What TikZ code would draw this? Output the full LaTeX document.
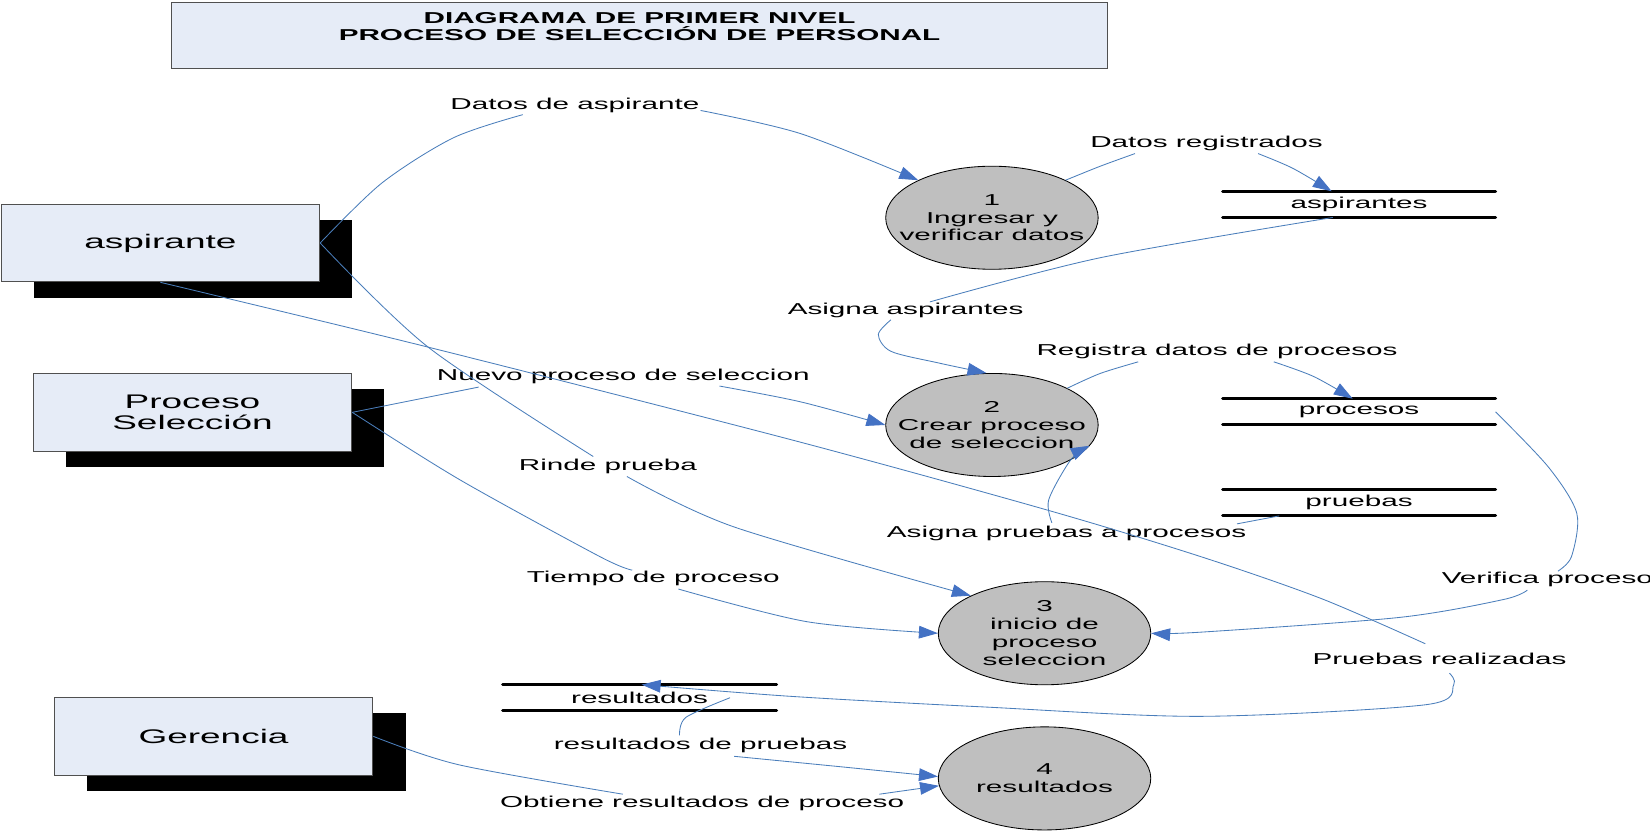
\documentclass[tikz,border=0pt]{standalone}
\usepackage{fontspec}
\setmainfont{Liberation Sans}[FakeStretch=1.88]
\usetikzlibrary{arrows.meta,shapes.geometric,shadows}
\definecolor{flowblue}{RGB}{74,126,187}
\definecolor{arrowblue}{RGB}{68,114,196}
\definecolor{entfill}{RGB}{230,236,247}
\definecolor{entborder}{RGB}{80,80,80}
\definecolor{procfill}{RGB}{191,191,191}
\newcommand\lblfont{\fontsize{15}{17}\selectfont}
\newcommand\entfont{\fontsize{18.7}{20}\selectfont}
\newcommand\ttlfont{\bfseries\fontsize{15}{16}\selectfont}
\tikzset{
  entity/.style={rectangle, draw=entborder, line width=0.8pt, fill=entfill,
    minimum width=303pt, minimum height=74pt, inner sep=0pt, align=center, font=\entfont,
    drop shadow={shadow xshift=31pt, shadow yshift=-15pt, fill=black, opacity=1}},
  titlebox/.style={rectangle, draw=entborder, line width=0.8pt, fill=entfill,
    minimum width=890pt, minimum height=63pt, inner sep=0pt},
  titletext/.style={align=center, font=\ttlfont, inner sep=0pt},
  proc/.style={ellipse, draw=black, line width=0.8pt, fill=procfill,
    minimum width=202pt, minimum height=98pt, inner sep=0pt},
  proctext/.style={align=center, font=\lblfont, inner sep=0pt},
  storenode/.style={rectangle, minimum width=259pt, minimum height=24.5pt, inner sep=0pt, font=\lblfont},
  storeline/.style={line width=3pt, line cap=round, black},
  flowlabel/.style={font=\lblfont, inner sep=0pt},
  flow/.style={draw=flowblue, line width=0.8pt},
  flowarr/.style={flow, -{Triangle[length=18pt,width=12pt,color=arrowblue]}}
}
\begin{document}
\begin{tikzpicture}[x=1pt,y=-1pt]
\fill[white] (0,0) rectangle (1568.6,790);
\useasboundingbox (0,0) rectangle (1568.6,790);

% title
\node[titlebox] (title) at (608,34) {};
\node[titletext] (titletxt) at (608,25.5) {DIAGRAMA DE PRIMER NIVEL\\PROCESO DE SELECCIÓN DE PERSONAL};

% entities
\node[entity] (asp) at (152.5,231) {aspirante};
\node[entity] (ps) at (183,392) {Proceso\\Selección};
\node[entity] (ger) at (203,700) {Gerencia};

% processes
\node[proc] (e1) at (943,207) {};
\node[proctext] (e1t) at (e1) {1\\Ingresar y\\verificar datos};
\node[proc] (e2) at (943,404) {};
\node[proctext] (e2t) at (e2) {2\\Crear proceso\\de seleccion};
\node[proc] (e3) at (993,602) {};
\node[proctext] (e3t) at (e3) {3\\inicio de\\proceso\\seleccion};
\node[proc] (e4) at (993,740) {};
\node[proctext] (e4t) at (e4) {4\\resultados};

% stores
\node[storenode] (sa) at (1292,194.3) {aspirantes};
\node[storenode] (sp) at (1292,391.5) {procesos};
\node[storenode] (spr) at (1292,478) {pruebas};
\node[storenode, minimum width=260pt] (sr) at (608,663.3) {resultados};
\foreach \s in {sa,sp,spr,sr}{
  \draw[storeline] (\s.north west) -- (\s.north east);
  \draw[storeline] (\s.south west) -- (\s.south east);
}

% flow labels
\node[flowlabel] (lDA) at (546.5,100) {Datos de aspirante};
\node[flowlabel] (lDR) at (1147,136) {Datos registrados};
\node[flowlabel] (lAA) at (861,295) {Asigna aspirantes};
\node[flowlabel] (lRD) at (1157,334) {Registra datos de procesos};
\node[flowlabel] (lNP) at (592.5,358) {Nuevo proceso de seleccion};
\node[flowlabel] (lRP) at (578,443) {Rinde prueba};
\node[flowlabel] (lAP) at (1014,507) {Asigna pruebas a procesos};
\node[flowlabel] (lTP) at (621,550) {Tiempo de proceso};
\node[flowlabel] (lVP) at (1471,551) {Verifica proceso};
\node[flowlabel] (lPR) at (1368.5,626) {Pruebas realizadas};
\node[flowlabel] (lRS) at (666,709) {resultados de pruebas};
\node[flowlabel] (lOB) at (667.5,764) {Obtiene resultados de proceso};

% label-side connector ends
\coordinate (da1) at (497,109); \coordinate (da2) at (666,105);
\coordinate (dr1) at (1079,146); \coordinate (dr2) at (1196,146);
\coordinate (aa1) at (884,287); \coordinate (aa2) at (847,304);
\coordinate (rd1) at (1082,344); \coordinate (rd2) at (1211,344);
\coordinate (np1) at (455,368); \coordinate (np2) at (684,367);
\coordinate (rp1) at (564,434); \coordinate (rp2) at (596,453);
\coordinate (ap1) at (1176,498); \coordinate (ap2) at (1000,497);
\coordinate (tp1) at (601,542); \coordinate (tp2) at (645,560);
\coordinate (vp1) at (1481,543); \coordinate (vp2) at (1452,561);
\coordinate (pr1) at (1355,612); \coordinate (pr2) at (1378,640);
\coordinate (rs1) at (646,699); \coordinate (rs2) at (698,719);
\coordinate (ob1) at (592,755); \coordinate (ob2) at (836,755);

% Datos de aspirante
\draw[flow] plot[smooth] coordinates {(asp.east) (363,174) (431,131) (da1)};
\draw[flowarr] plot[smooth] coordinates {(da2) (761,127) (e1.153)};
% Datos registrados
\draw[flow] plot[smooth] coordinates {(e1.27) (1046,158) (dr1)};
\draw[flowarr] plot[smooth] coordinates {(dr2) (1229,160) ([xshift=-26pt]sa.north)};
% Asigna aspirantes
\draw[flow] plot[smooth] coordinates {([xshift=-25pt]sa.south) (1046,245) (aa1)};
\draw[flowarr] plot[smooth] coordinates {(aa2) (835,318) (847,334) (892,345) (e2.96)};
% Registra datos de procesos
\draw[flow] plot[smooth] coordinates {(e2.26) (1046,355) (rd1)};
\draw[flowarr] plot[smooth] coordinates {(rd2) (1249,358) ([xshift=-6pt]sp.north)};
% Nuevo proceso de seleccion
\draw[flow] (ps.east) -- (np1);
\draw[flowarr] plot[smooth] coordinates {(np2) (761,382) (e2.west)};
% Rinde prueba
\draw[flow] plot[smooth] coordinates {(asp.east) (407,330) (rp1)};
\draw[flowarr] plot[smooth] coordinates {(rp2) (698,501) (e3.153)};
% Asigna pruebas a procesos
\draw[flow] ([xshift=-76pt]spr.south) -- (ap1);
\draw[flowarr] plot[smooth] coordinates {(ap2) (997,475) (1018,437) (e2.-12)};
% Tiempo de proceso
\draw[flow] plot[smooth] coordinates {(ps.east) (437,456) (570,529) (tp1)};
\draw[flowarr] plot[smooth] coordinates {(tp2) (767,591) (e3.west)};
% Verifica proceso
\draw[flow] plot[smooth] coordinates {(sp.east) (1472,444) (1499,488) (1494,529) (vp1)};
\draw[flowarr] plot[smooth] coordinates {(vp2) (1429,570) (1330,587) (1141,601) (e3.east)};
% Pruebas realizadas
\draw[flow] plot[smooth] coordinates {(asp.south) (407,330) (752,418) (996,485) (1141,529) (1256,569) (pr1)};
\draw[flowarr] plot[smooth] coordinates {(pr2) (1382,651) (1355,670) (1141,681) (934,672) (752,662) ([xshift=2pt]sr.north)};
% resultados de pruebas
\draw[flow] plot[smooth] coordinates {([xshift=86pt]sr.center) (652,682) (rs1)};
\draw[flowarr] plot[smooth] coordinates {(rs2) (800,729) (e4.179)};
% Obtiene resultados de proceso
\draw[flow] plot[smooth] coordinates {(ger.east) (436,727) (ob1)};
\draw[flowarr] (ob2) -- (e4.184);
\end{tikzpicture}
\end{document}
